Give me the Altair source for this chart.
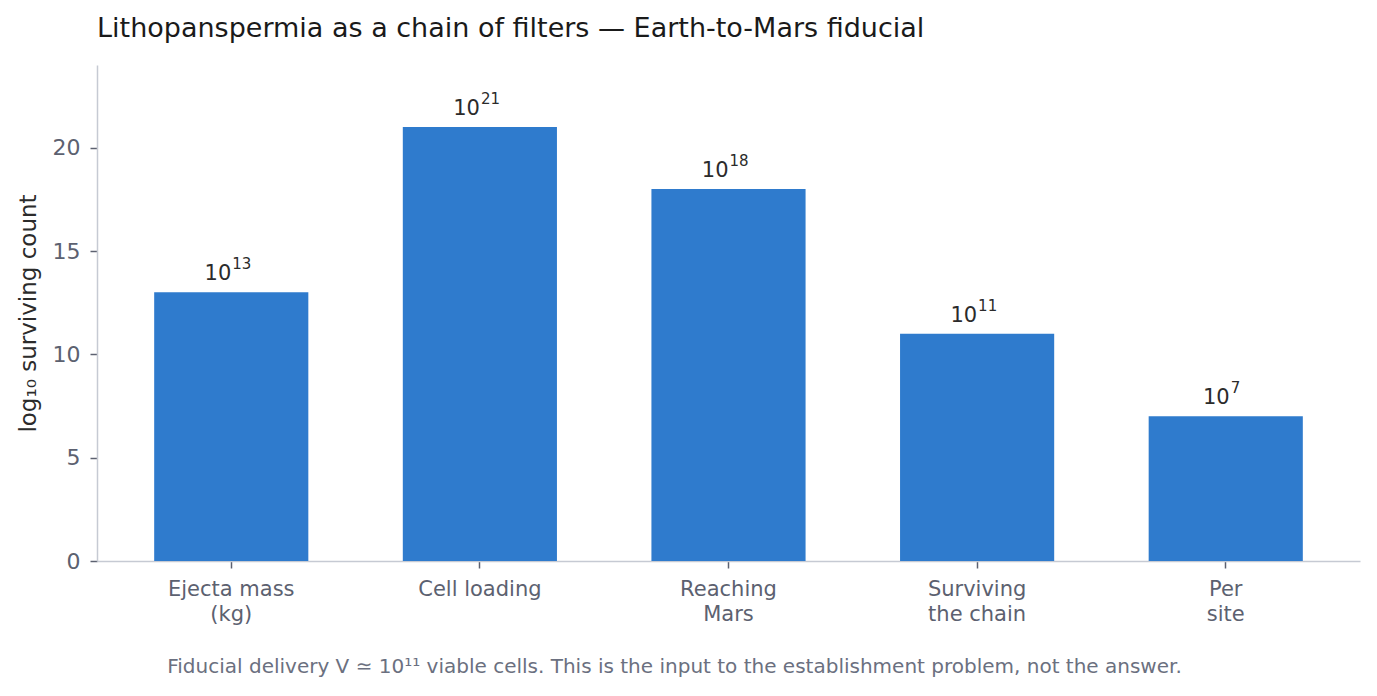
import altair as alt
import pandas as pd

# Chain of filters, log10 of the surviving count at each stage
stages = ["Ejecta mass|(kg)", "Cell loading", "Reaching|Mars", "Surviving|the chain", "Per|site"]
log_counts = [13, 21, 18, 11, 7]

TITLE = "Lithopanspermia as a chain of filters — Earth-to-Mars fiducial"
CAPTION = ("Fiducial delivery V ≃ 10¹¹ viable cells. "
           "This is the input to the establishment problem, not the answer.")

FONT = "DejaVu Sans"
BAR_COLOR = "#2f7bcd"
AXIS_GREY = "#c6cad3"
TICK_GREY = "#5c6170"
TEXT_DARK = "#2b2b2b"

df = pd.DataFrame({"stage": stages, "logN": log_counts})

x_enc = alt.X(
    "stage:N",
    sort=stages,
    scale=alt.Scale(paddingInner=0.38, paddingOuter=0.23),
    axis=alt.Axis(
        title=CAPTION,
        titleX=577,
        titleY=105,
        titleAlign="center",
        titleBaseline="middle",
        titleFont=FONT,
        titleFontSize=20,
        titleFontWeight="normal",
        titleColor="#6b7080",
        labelExpr="split(datum.label, '|')",
        labelAngle=0,
        labelFont=FONT,
        labelFontSize=21,
        labelColor=TICK_GREY,
        labelPadding=10,
        labelLineHeight=25,
        tickColor=TICK_GREY,
        tickSize=7,
        tickWidth=1.5,
        domainColor=AXIS_GREY,
        domainWidth=1.5,
        grid=False,
    ),
)

y_enc = alt.Y(
    "logN:Q",
    scale=alt.Scale(domain=[0, 24], nice=False),
    axis=alt.Axis(
        title="log₁₀ surviving count",
        values=[0, 5, 10, 15, 20],
        titleX=-69,
        titleY=248,
        titleAngle=-90,
        titleAlign="center",
        titleBaseline="middle",
        titleFont=FONT,
        titleFontSize=23,
        titleFontWeight="normal",
        titleColor=TEXT_DARK,
        labelFont=FONT,
        labelFontSize=22,
        labelColor=TICK_GREY,
        labelPadding=10,
        tickColor=TICK_GREY,
        tickSize=7,
        tickWidth=1.5,
        domainColor=AXIS_GREY,
        domainWidth=1.5,
        grid=False,
    ),
)

bars = alt.Chart(df).mark_bar(color=BAR_COLOR).encode(x=x_enc, y=y_enc)

# "10" with the exponent set as a smaller raised text, like 10^n
label_base = alt.Chart(df).transform_calculate(
    base="'10'", expo="toString(datum.logN)", nd="length(toString(datum.logN))"
)
lx = alt.X("stage:N", sort=stages)


def base_text(n_digits, dx):
    return label_base.transform_filter(f"datum.nd == {n_digits}").mark_text(
        font=FONT, fontSize=21, color=TEXT_DARK, baseline="alphabetic",
        align="right", dx=dx, dy=-12,
    ).encode(x=lx, y="logN:Q", text="base:N")


def expo_text(n_digits, dx):
    return label_base.transform_filter(f"datum.nd == {n_digits}").mark_text(
        font=FONT, fontSize=15, color=TEXT_DARK, baseline="alphabetic",
        align="left", dx=dx, dy=-23,
    ).encode(x=lx, y="logN:Q", text="expo:N")


chart = (
    alt.layer(
        bars,
        base_text(2, 0), expo_text(2, 1),
        base_text(1, 4), expo_text(1, 5),
    )
    .properties(
        width=1263,
        height=496,
        autosize=alt.AutoSizeParams(type="none"),
        padding={"left": 89, "top": 57, "right": 9, "bottom": 127},
        title=alt.TitleParams(
            TITLE,
            anchor="start",
            frame="group",
            font=FONT,
            fontSize=27,
            fontWeight="normal",
            color="#1a1a1a",
            offset=22,
        ),
    )
    .configure_view(stroke=None)
)

chart.save("out.html", embed_options={"renderer": "svg", "actions": False})
